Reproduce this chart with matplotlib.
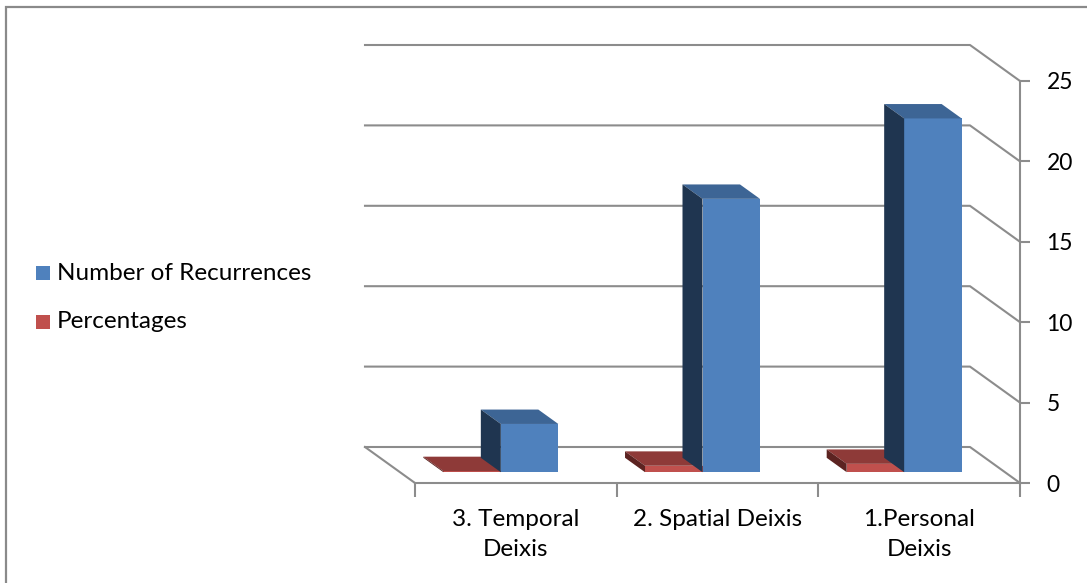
import matplotlib.pyplot as plt
from matplotlib.patches import Polygon, Rectangle

plt.rcParams['font.family'] = ['Lato', 'DejaVu Sans']

categories = ['3. Temporal\nDeixis', '2. Spatial Deixis', '1.Personal\nDeixis']
series_names = ['Number of Recurrences', 'Percentages']
recurrences = [3, 17, 22]
percentages = [0.07, 0.40, 0.52]
y_ticks = [0, 5, 10, 15, 20, 25]

# face colours per series: front, top, left side
front_cols = ['#4f81bd', '#c0504d']
top_cols = ['#3d6595', '#8e3a38']
side_cols = ['#1f3550', '#5c2321']
grid_col = '#8c8c8c'

W, H = 1087, 583
fig = plt.figure(figsize=(W / 100, H / 100), dpi=100)

# front plane of the box: x 415..1020 px, y 483..81 px (from top)
ax = fig.add_axes([415 / W, 1 - 483 / H, 605 / W, 402 / H])
ax.set_xlim(0, 3)
ax.set_ylim(0, 25)

# offset of the back wall in data units (50 px left, 36 px up)
DX = -50 / (605 / 3)
DY = 36 / (402 / 25)


def at(x, y, d):
    return (x + d * DX, y + d * DY)


# back wall gridlines with their diagonal run to the front axis
for v in y_ticks:
    bx0, by = at(0, v, 1)
    bx1, _ = at(3, v, 1)
    ax.plot([bx0, bx1, 3], [by, by, v], color=grid_col, lw=1.5, clip_on=False, zorder=1)
# left edge of the floor
ax.plot([DX, 0], [DY, 0], color=grid_col, lw=1.5, clip_on=False, zorder=1)

bar_w = 0.285
d0, d1 = 0.3, 0.7

for i in range(len(categories)):
    c = i + 0.5
    for s, vals in enumerate([percentages, recurrences]):
        k = 1 - s  # series index into colour lists (blue = 0, red = 1)
        v = vals[i]
        x0 = c - bar_w if s == 0 else c
        x1 = x0 + bar_w
        fx, fy = at(x0, 0, d0)
        ax.bar(fx, v, width=bar_w, bottom=fy, align='edge', color=front_cols[k],
               lw=0, clip_on=False, zorder=3 + 2 * i + s)
        top = [at(x0, v, d0), at(x1, v, d0), at(x1, v, d1), at(x0, v, d1)]
        side = [at(x0, 0, d0), at(x0, v, d0), at(x0, v, d1), at(x0, 0, d1)]
        ax.add_patch(Polygon(top, closed=True, fc=top_cols[k], ec='none',
                             clip_on=False, zorder=3 + 2 * i + s))
        ax.add_patch(Polygon(side, closed=True, fc=side_cols[k], ec='none',
                             clip_on=False, zorder=3 + 2 * i + s))

for sp in ['left', 'top']:
    ax.spines[sp].set_visible(False)
for sp in ['right', 'bottom']:
    ax.spines[sp].set_color(grid_col)
    ax.spines[sp].set_linewidth(1.5)
ax.set_facecolor('none')

ax.yaxis.tick_right()
ax.set_yticks(y_ticks)
ax.tick_params(axis='y', direction='out', length=7, width=1.5, color=grid_col,
               labelsize=16.5, pad=12)
ax.set_xticks([0, 1, 2, 3])
ax.set_xticklabels([])
ax.tick_params(axis='x', which='major', direction='out', length=10, width=1.5, color=grid_col)
ax.set_xticks([0.5, 1.5, 2.5], minor=True)
ax.set_xticklabels(categories, minor=True, fontsize=17.5, linespacing=1.5)
ax.tick_params(axis='x', which='minor', length=0, pad=19)

# legend on the left
for s, name in enumerate(series_names):
    yc = 1 - (273 + 49 * s) / H
    fig.patches.append(Rectangle((36 / W, yc - 7 / H), 14 / W, 14 / H,
                                 transform=fig.transFigure, fc=front_cols[s], ec='none'))
    fig.text(57 / W, yc, name, fontsize=17.5, va='center', ha='left')

# chart frame
fig.patches.append(Rectangle((6 / W, -0.05), 1.2, 1 - 7 / H + 0.05, transform=fig.transFigure,
                             fill=False, ec='#8a8a8a', lw=1.6))

fig.savefig('out.png', dpi=100)
